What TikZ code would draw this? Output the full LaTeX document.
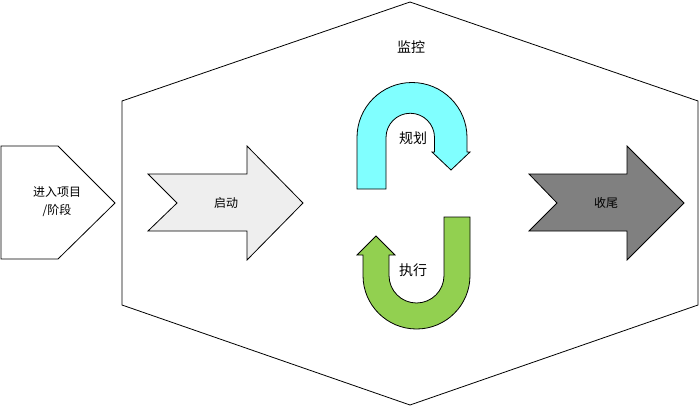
\documentclass[tikz,border=0pt]{standalone}
\usepackage{fontspec}
\newfontfamily\cjk{Noto Sans CJK SC}
\definecolor{cyanU}{HTML}{80FFFF}
\definecolor{greenU}{HTML}{92D050}
\definecolor{lightA}{HTML}{EEEEEE}
\definecolor{darkA}{HTML}{808080}
\tikzset{
  outline/.style={draw=black, line width=0.8pt, line join=miter},
  lbl/.style={font=\cjk\fontsize{12}{18}\selectfont, align=center, inner sep=0pt},
  biglbl/.style={font=\cjk\fontsize{14}{18}\selectfont, align=center, inner sep=0pt}
}
\begin{document}
\begin{tikzpicture}[x=1pt,y=1pt]
\useasboundingbox (0,0) rectangle (700,-407);
% hexagon
\draw[outline] (410,-2) -- (698,-101) -- (698,-305) -- (410,-405) -- (122,-305) -- (122,-101) -- cycle;
% entry pentagon
\draw[outline, fill=white] (1,-146) -- (58,-146) -- (115,-203) -- (58,-259) -- (1,-259) -- cycle;
% start arrow
\draw[outline, fill=lightA] (148,-174) -- (247,-174) -- (247,-146) -- (303,-203) -- (247,-260) -- (247,-231) -- (148,-231) -- (177,-203) -- cycle;
% close arrow
\draw[outline, fill=darkA] (529,-174) -- (627,-174) -- (627,-146) -- (684,-203) -- (627,-260) -- (627,-231) -- (529,-231) -- (557,-203) -- cycle;
% planning U-turn
\draw[outline, fill=cyanU] (357,-189) -- (357,-137.5) arc[start angle=180,end angle=0,radius=55]
  -- (467,-152) -- (470,-152) -- (451,-170) -- (432,-152) -- (434.5,-152) -- (434.5,-137.5)
  arc[start angle=0,end angle=180,radius=24.25] -- (386,-189) -- cycle;
% execution U-turn
\draw[outline, fill=greenU] (363,-255) -- (363,-275.5) arc[start angle=180,end angle=360,radius=53.5]
  -- (470,-217) -- (444,-217) -- (444,-275.5) arc[start angle=0,end angle=-180,radius=27.5]
  -- (389,-255) -- (395,-255) -- (376,-236) -- (357,-255) -- cycle;
% labels
\node[lbl] (entry) at (57,-202) {进入项目\\/阶段};
\node[lbl] (start) at (226,-203) {启动};
\node[lbl] (close) at (606,-203) {收尾};
\node[biglbl] (monitor) at (411,-47) {监控};
\node[biglbl] (plan) at (413,-138) {规划};
\node[biglbl] (exec) at (413,-270) {执行};
\end{tikzpicture}
\end{document}
